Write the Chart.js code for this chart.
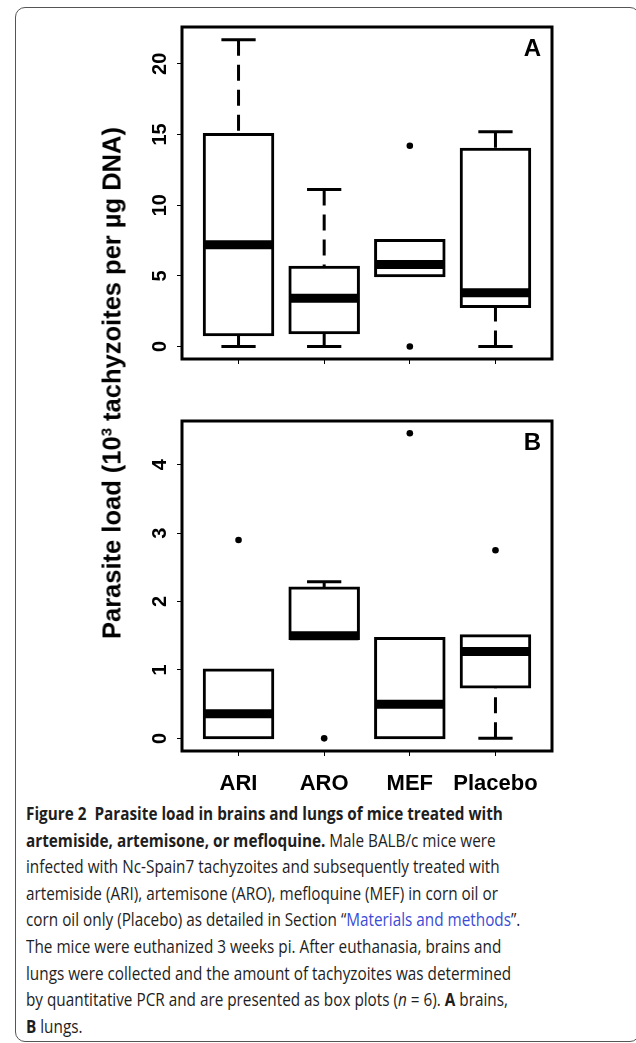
<!DOCTYPE html>
<html>
<head>
<meta charset="utf-8">
<script src="https://cdn.jsdelivr.net/npm/chart.js@4.4.0/dist/chart.umd.min.js"></script>
<style>
  html, body { margin: 0; padding: 0; background: #fff; width: 636px; height: 1043px; overflow: hidden; }
  .card { position: absolute; left: 15px; top: 7px; width: 625px; height: 1035px; border: 1px solid #555; border-radius: 10px; box-sizing: border-box; }
  .plot { position: absolute; left: 0; width: 636px; height: 400px; }
  #brain { top: 0; }
  #lung { top: 400px; }
  .ytitle { position: absolute; left: 112px; top: 383px; transform: translate(-50%, -50%) rotate(-90deg); white-space: nowrap;
    font: bold 25.5px "Liberation Sans", Arial, sans-serif; color: #000; }
  .ytitle sup { font-size: 15px; vertical-align: 9px; line-height: 0; }
  .caption { position: absolute; left: 26px; top: 800px; font-family: "Open Sans", sans-serif; font-size: 18px; line-height: 26.6px;
    color: #1e1e1e; white-space: nowrap; transform: scaleX(0.85); transform-origin: left top; }
  .caption a { color: #3a4cd6; text-decoration: none; }
</style>
</head>
<body>
<div class="card"></div>
<canvas id="brain" class="plot" width="636" height="400"></canvas>
<canvas id="lung" class="plot" width="636" height="400"></canvas>
<div class="ytitle">Parasite load (10<sup>3</sup> tachyzoites per µg DNA)</div>
<div class="caption">
  <div><b>Figure 2&nbsp; Parasite load in brains and lungs of mice treated with</b></div>
  <div><b>artemiside, artemisone, or mefloquine.</b> Male BALB/c mice were</div>
  <div>infected with Nc-Spain7 tachyzoites and subsequently treated with</div>
  <div>artemiside (ARI), artemisone (ARO), mefloquine (MEF) in corn oil or</div>
  <div>corn oil only (Placebo) as detailed in Section “<a>Materials and methods</a>”.</div>
  <div>The mice were euthanized 3 weeks pi. After euthanasia, brains and</div>
  <div>lungs were collected and the amount of tachyzoites was determined</div>
  <div>by quantitative PCR and are presented as box plots (<i>n</i> = 6). <b>A</b> brains,</div>
  <div><b>B</b> lungs.</div>
</div>
<script>
const groups = ["ARI", "ARO", "MEF", "Placebo"]

// A: brains  (10^3 tachyzoites per ug DNA)
const brainLow = [0, 0, 5.0, 0]
const brainQ1 = [0.83, 0.97, 5.0, 2.83]
const brainMed = [7.2, 3.42, 5.8, 3.8]
const brainQ3 = [15.0, 5.6, 7.5, 13.95]
const brainHigh = [21.7, 11.1, 7.5, 15.2]
const brainOut = [[], [], [0, 14.2], []]
const brainTicks = [0, 5, 10, 15, 20]

// B: lungs
const lungLow = [0, 1.46, 0, 0]
const lungQ1 = [0, 1.46, 0, 0.75]
const lungMed = [0.36, 1.5, 0.5, 1.27]
const lungQ3 = [1.0, 2.2, 1.46, 1.5]
const lungHigh = [1.0, 2.29, 1.46, 1.5]
const lungOut = [[2.9], [0], [4.46], [2.75]]
const lungTicks = [0, 1, 2, 3, 4]

const boxWidth = 0.8
const capWidth = 0.4

function boxDatasets(low, q1, med, q3, high, out) {
    let boxes = [], whiskers = [], caps = [], medians = [], points = []
    groups.forEach(function (g, i) {
        let x = i + 1
        boxes.push({ x: x, y: [q1[i], q3[i]] })
        // whiskers run from the staple towards the box, like R does
        if (high[i] > q3[i]) {
            whiskers.push({ x: x, y: high[i] }, { x: x, y: q3[i] }, { x: x, y: null })
            caps.push({ x: x - capWidth / 2, y: high[i] }, { x: x + capWidth / 2, y: high[i] }, { x: x, y: null })
        }
        if (low[i] < q1[i]) {
            whiskers.push({ x: x, y: low[i] }, { x: x, y: q1[i] }, { x: x, y: null })
            caps.push({ x: x - capWidth / 2, y: low[i] }, { x: x + capWidth / 2, y: low[i] }, { x: x, y: null })
        }
        medians.push({ x: x - boxWidth / 2, y: med[i] }, { x: x + boxWidth / 2, y: med[i] }, { x: x, y: null })
        out[i].forEach(function (v) { points.push({ x: x, y: v }) })
    })
    let line = { type: "line", borderColor: "#000", pointRadius: 0, fill: false, spanGaps: false, tension: 0, borderCapStyle: "butt" }
    return [
        Object.assign({}, line, { data: medians, borderWidth: 9, order: 0 }),
        { type: "scatter", data: points, pointRadius: 3.3, pointBackgroundColor: "#000", pointBorderWidth: 0, order: 1 },
        { type: "bar", data: boxes, backgroundColor: "#fff", borderColor: "#000", borderWidth: 3, borderSkipped: false,
          inflateAmount: 1.5, barPercentage: 1, categoryPercentage: boxWidth, order: 2 },
        Object.assign({}, line, { data: caps, borderWidth: 3, order: 3 }),
        Object.assign({}, line, { data: whiskers, borderWidth: 3, borderDash: [16, 9], order: 4 }),
    ]
}

const panelFrame = {
    id: "panelFrame",
    afterDraw(chart, args, opts) {
        const ctx = chart.ctx
        const a = chart.chartArea
        const y = chart.scales.y
        ctx.save()
        ctx.strokeStyle = "#000"
        ctx.lineWidth = 3
        ctx.strokeRect(a.left, a.top, a.right - a.left, a.bottom - a.top)
        // y tick labels are turned on their side, R style
        ctx.fillStyle = "#000"
        ctx.font = 'bold 20px "Liberation Sans", Arial, sans-serif'
        ctx.textAlign = "center"
        ctx.textBaseline = "middle"
        y.ticks.forEach(function (t) {
            ctx.save()
            ctx.translate(a.left - 22, y.getPixelForValue(t.value))
            ctx.rotate(-Math.PI / 2)
            ctx.fillText(String(t.value), 0, 0)
            ctx.restore()
        })
        ctx.font = 'bold 24px "Liberation Sans", Arial, sans-serif'
        ctx.textAlign = "right"
        ctx.fillText(opts.letter, a.right - 11, a.top + 22)
        ctx.restore()
    }
}

function makeChart(id, sets, yMin, yMax, yTicks, letter, padTop, xHeight, showLabels) {
    return new Chart(document.getElementById(id), {
        type: "bar",
        data: { datasets: sets },
        options: {
            responsive: false,
            animation: false,
            events: [],
            layout: { padding: { top: padTop, right: 84, left: 0, bottom: 0 } },
            plugins: { legend: { display: false }, tooltip: { enabled: false }, panelFrame: { letter: letter } },
            scales: {
                x: {
                    type: "linear",
                    min: 0.34,
                    max: 4.66,
                    offset: false,
                    afterBuildTicks: function (s) { s.ticks = groups.map(function (g, i) { return { value: i + 1 } }) },
                    afterFit: function (s) { s.height = xHeight },
                    grid: { drawOnChartArea: false, offset: false, tickLength: 5, color: "#000", lineWidth: 1 },
                    border: { display: false },
                    ticks: {
                        display: showLabels,
                        padding: 15,
                        color: "#000",
                        font: { family: '"Liberation Sans", Arial, sans-serif', size: 22, weight: "bold" },
                        callback: function (v) { return groups[v - 1] }
                    }
                },
                y: {
                    min: yMin,
                    max: yMax,
                    afterBuildTicks: function (s) { s.ticks = yTicks.map(function (v) { return { value: v } }) },
                    afterFit: function (s) { s.width = 182 },
                    grid: { drawOnChartArea: false, tickLength: 5, color: "#000", lineWidth: 1 },
                    border: { display: false },
                    ticks: { display: false }
                }
            }
        },
        plugins: [panelFrame]
    })
}

makeChart("brain", boxDatasets(brainLow, brainQ1, brainMed, brainQ3, brainHigh, brainOut),
    -0.88, 22.6, brainTicks, "A", 27, 41, false)
makeChart("lung", boxDatasets(lungLow, lungQ1, lungMed, lungQ3, lungHigh, lungOut),
    -0.185, 4.64, lungTicks, "B", 21, 49, true)
</script>
</body>
</html>
